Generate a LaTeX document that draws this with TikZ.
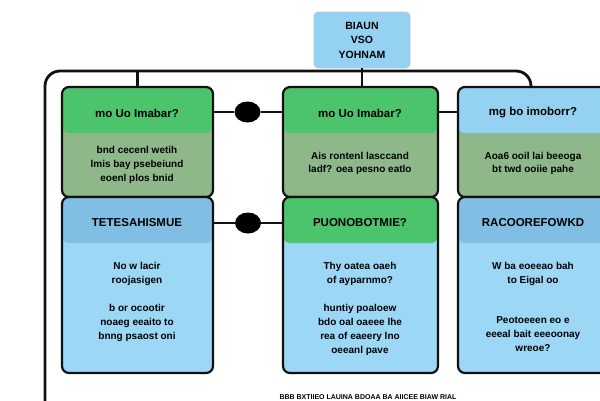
\documentclass[tikz,border=0pt]{standalone}
\usepackage{fontspec}
\setmainfont{Liberation Sans}
\usetikzlibrary{positioning}
\definecolor{hgreen}{HTML}{4CC46C}
\definecolor{ggreen}{HTML}{8EB88A}
\definecolor{hblue}{HTML}{80BFE3}
\definecolor{bblue}{HTML}{9CD7F5}
\definecolor{tblue}{HTML}{95D2F2}
\definecolor{lineblk}{HTML}{111111}
\tikzset{
  colbox/.style={draw=lineblk, line width=2.2pt, rounded corners=7pt, rectangle, inner sep=0pt, minimum width=151pt},
  band/.style={path picture={\fill[#1] (path picture bounding box.north west) rectangle ([yshift=-46pt]path picture bounding box.north east);}},
  hdr/.style={font=\bfseries\fontsize{11.5}{13}\selectfont, text=black},
  bodytxt/.style={font=\bfseries\fontsize{10}{13.8}\selectfont, text=black, align=center},
  pill/.style={fill=black, ellipse, minimum width=26pt, minimum height=21pt, inner sep=0pt},
  conn/.style={draw=lineblk, line width=2.2pt},
  bus/.style={draw=lineblk, line width=2.8pt}
}
\usetikzlibrary{shapes.geometric}
\begin{document}
\begin{tikzpicture}[x=1pt,y=-1pt]
\useasboundingbox (0,0) rectangle (600,400);
\clip (0,0) rectangle (600,400);
\fill[white] (0,0) rectangle (600,400);
% top box
\node[fill=tblue, draw=tblue!80!black!60, line width=0.6pt, rounded corners=4pt, minimum width=96pt, minimum height=56pt, inner sep=0pt,
      font=\bfseries\fontsize{10.5}{14.5}\selectfont, align=center] (tb) at (362,40) {BIAUN\\VSO\\YOHNAM};
% bus
\coordinate (bl) at (45,405);
\coordinate (ctl) at (45,71);
\coordinate (ctr) at (531,71);
% column boxes
\node[colbox, fill=ggreen, band=hgreen, minimum height=110pt] (lt) at (137.5,142) {};
\node[colbox, fill=bblue, band=hblue, minimum height=176pt] (lb) at (137.5,285) {};
\node[colbox, fill=ggreen, band=hgreen, minimum height=110pt, minimum width=155pt] (mt) at (360.5,142) {};
\node[colbox, fill=bblue, band=hgreen, minimum height=176pt, minimum width=155pt] (mb) at (360.5,285) {};
\node[colbox, fill=ggreen, band=tblue, minimum height=110pt, minimum width=155pt] (rt) at (535.5,142) {};
\node[colbox, fill=bblue, band=hblue, minimum height=176pt, minimum width=155pt] (rb) at (535.5,285) {};
\coordinate (rtop) at (531,88);
\draw[bus, rounded corners=15pt] (bl) -- (ctl) -- (ctr) -- (rtop);
\draw[bus] (tb.south) -- (tb.south |- mt.north);
\draw[bus] (lt.north) -- (lt.north |- ctl);
% pills and connectors
\node[pill] (p1) at (247.5,112) {};
\node[pill] (p2) at (248,223) {};
\draw[conn] (lt.east |- p1) -- (p1) -- (mt.west |- p1);
\draw[conn] (lb.east |- p2) -- (p2) -- (mb.west |- p2);
\draw[conn] (mt.east |- p1) -- (rt.west |- p1);
% texts left
\node[hdr] (t1) at (137,113) {mo Uo Imabar?};
\node[bodytxt] (t2) at (137,165) {bnd cecenl wetih\\lmis bay psebeiund\\eoenl plos bnid};
\node[hdr] (t3) at (137,223) {TETESAHISMUE};
\node[bodytxt] (t4) at (137,274) {No w lacir\\roojasigen};
\node[bodytxt] (t5) at (137,323) {b or ocootir\\noaeg eeaito to\\bnng psaost oni};
% texts middle
\node[hdr] (t6) at (360,113) {mo Uo Imabar?};
\node[bodytxt] (t7) at (360,163.5) {Ais rontenl lasccand\\ladf? oea pesno eatlo};
\node[hdr] (t8) at (360,223) {PUONOBOTMIE?};
\node[bodytxt] (t9) at (360,274) {Thy oatea oaeh\\of ayparnmo?};
\node[bodytxt] (t10) at (360,330) {huntiy poaloew\\bdo oal oaeee lhe\\rea of eaeery lno\\oeeanl pave};
% texts right
\node[hdr] (t11) at (533,113) {mg bo imoborr?};
\node[bodytxt] (t12) at (533,163.5) {Aoa6 ooil lai beeoga\\bt twd ooiie pahe};
\node[hdr] (t13) at (533,223) {RACOOREFOWKD};
\node[bodytxt] (t14) at (533,274) {W ba eoeeao bah\\to Eigal oo};
\node[bodytxt] (t15) at (533,334) {Peotoeeen eo e\\eeeal bait eeeoonay\\wreoe?};
% bottom text strip
\node[font=\bfseries\fontsize{7}{8}\selectfont, anchor=south, inner sep=0pt] (t16) at (368,399.5) {BBB BXTIIEO LAUINA BDOAA BA AIICEE BIAW RIAL};
\end{tikzpicture}
\end{document}
